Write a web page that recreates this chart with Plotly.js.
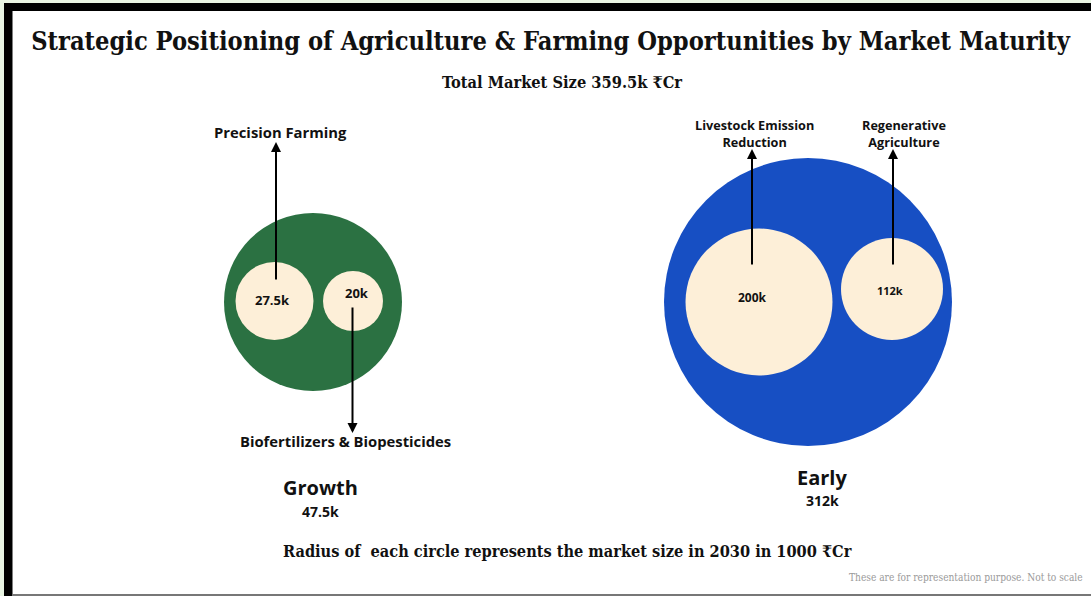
<!DOCTYPE html>
<html>
<head>
<meta charset="utf-8">
<script src="https://cdn.plot.ly/plotly-3.0.1.min.js"></script>
<style>
  html, body { margin: 0; padding: 0; background: #ffffff; }
  #chart { width: 1091px; height: 596px; }
</style>
</head>
<body>
<div id="chart"></div>
<script>
// ---------------- DATA ----------------
const chartTitle = 'Strategic Positioning of Agriculture & Farming Opportunities by Market Maturity';
const totalMarket = 359.5;                 // k ₹Cr
const segments = ['Growth', 'Early'];      // market maturity stage
const segmentSize = [47.5, 312];           // k ₹Cr (2030)
const opportunities = ['Precision Farming', 'Biofertilizers & Biopesticides',
                       'Livestock Emission<br>Reduction', 'Regenerative<br>Agriculture'];
const opportunitySegment = ['Growth', 'Growth', 'Early', 'Early'];
const opportunitySize = [27.5, 20, 200, 112];  // k ₹Cr (2030)
const footNote = 'Radius of  each circle represents the market size in 2030 in 1000 ₹Cr';
const scaleNote = 'These are for representation purpose. Not to scale';

// ---------------- LAYOUT GEOMETRY (pixels on a 1:1 axis, not to scale) ----------------
const W = 1091, H = 596;
const segGeom = [ {cx: 313, cy: 302, r: 89, labelY: 487, valueY: 511, labelX: 320},
                  {cx: 808, cy: 302, r: 144, labelY: 477, valueY: 500, labelX: 822} ];
const oppGeom = [
  {cx: 274.5, cy: 301, r: 39,   vx: 272, vy: 300, vs: 13, tail: [276, 281], tip: [276, 142], lx: 280, ly: 132},
  {cx: 353,   cy: 301, r: 30,   vx: 357, vy: 293, vs: 13, tail: [352.5, 306], tip: [352.5, 433], lx: 345, ly: 441},
  {cx: 759,   cy: 302, r: 73.5, vx: 752, vy: 297, vs: 12, tail: [752, 266], tip: [752, 149], lx: 754, ly: 133},
  {cx: 892,   cy: 289, r: 51,   vx: 890, vy: 290, vs: 11, tail: [893, 266], tip: [893, 149], lx: 904, ly: 133}
];
const segColor = ['#2b7142', '#174fc3'];
const oppColor = '#fdefd8';
const serif = '"DejaVu Serif Condensed", "DejaVu Serif", "Noto Sans", serif';
const sans = '"Open Sans", "Noto Sans", "DejaVu Sans", sans-serif';

// ---------------- TRACES ----------------
const outerTrace = {
  type: 'scatter', mode: 'markers', hoverinfo: 'text',
  x: segments.map((s, i) => segGeom[i].cx),
  y: segments.map((s, i) => segGeom[i].cy),
  text: segments.map((s, i) => s + ': ' + segmentSize[i] + 'k'),
  marker: { size: segGeom.map(g => 2 * g.r), sizemode: 'diameter', color: segColor, opacity: 1, line: {width: 0} },
  showlegend: false
};
const innerTrace = {
  type: 'scatter', mode: 'markers', hoverinfo: 'text',
  x: opportunities.map((o, i) => oppGeom[i].cx),
  y: opportunities.map((o, i) => oppGeom[i].cy),
  text: opportunities.map((o, i) => o.replace('<br>', ' ') + ' (' + opportunitySegment[i] + '): ' + opportunitySize[i] + 'k'),
  marker: { size: oppGeom.map(g => 2 * g.r), sizemode: 'diameter', color: oppColor, opacity: 1, line: {width: 0} },
  showlegend: false
};

// ---------------- ANNOTATIONS ----------------
const ann = [];
ann.push({ x: 562, y: 82, xref: 'x', yref: 'y', showarrow: false,
  text: 'Total Market Size ' + totalMarket + 'k ₹Cr',
  font: { family: serif, size: 16.3, color: '#111', weight: 'bold' } });
ann.push({ x: 567, y: 551, xref: 'x', yref: 'y', showarrow: false, text: footNote,
  font: { family: serif, size: 16.2, color: '#111', weight: 'bold' } });
ann.push({ x: 1085, y: 577, xref: 'x', yref: 'y', xanchor: 'right', showarrow: false, text: scaleNote,
  font: { family: serif, size: 10.1, color: '#9a9a9a' } });

segments.forEach((s, i) => {
  const g = segGeom[i];
  ann.push({ x: g.labelX, y: g.labelY, xref: 'x', yref: 'y', showarrow: false, text: s,
    font: { family: sans, size: 20, color: '#111', weight: 'bold' } });
  ann.push({ x: g.labelX, y: g.valueY, xref: 'x', yref: 'y', showarrow: false, text: segmentSize[i] + 'k',
    font: { family: sans, size: 14, color: '#111', weight: 'bold' } });
});

opportunities.forEach((o, i) => {
  const g = oppGeom[i];
  ann.push({ x: g.vx, y: g.vy, xref: 'x', yref: 'y', showarrow: false, text: opportunitySize[i] + 'k',
    font: { family: sans, size: g.vs, color: '#111', weight: 'bold' } });
  ann.push({ x: g.tip[0], y: g.tip[1], ax: g.tail[0], ay: g.tail[1], xref: 'x', yref: 'y', axref: 'x', ayref: 'y',
    text: '', showarrow: true, arrowhead: 2, arrowsize: 1, arrowwidth: 2, arrowcolor: '#000', standoff: 0, startstandoff: 0 });
  const twoLine = o.indexOf('<br>') >= 0;
  ann.push({ x: g.lx, y: g.ly, xref: 'x', yref: 'y', showarrow: false, text: o,
    font: { family: sans, size: twoLine ? 12.7 : 14.8, color: '#111', weight: 'bold' } });
});

// ---------------- FRAME SHAPES ----------------
const shapes = [
  { type: 'rect', xref: 'x', yref: 'y', x0: 4, x1: W, y0: 3, y1: H, fillcolor: '#ffffff', line: {width: 0}, layer: 'below' },
  { type: 'rect', xref: 'x', yref: 'y', x0: 4, x1: W, y0: 3, y1: 11, fillcolor: '#000000', line: {width: 0}, layer: 'below' },
  { type: 'rect', xref: 'x', yref: 'y', x0: 4, x1: 12.5, y0: 3, y1: H, fillcolor: '#000000', line: {width: 0}, layer: 'below' },
  { type: 'rect', xref: 'x', yref: 'y', x0: 12.5, x1: W, y0: 594, y1: H, fillcolor: '#777777', line: {width: 0}, layer: 'below' }
];

const layout = {
  width: W, height: H,
  margin: { l: 0, r: 0, t: 0, b: 0, pad: 0 },
  paper_bgcolor: '#e9f5e3', plot_bgcolor: 'rgba(0,0,0,0)',
  title: { text: '<b>' + chartTitle + '</b>', x: 550.5 / W, xanchor: 'center', y: 1 - 41 / H, yanchor: 'middle',
    xref: 'paper', yref: 'paper', font: { family: serif, size: 25.2, color: '#111' } },
  xaxis: { range: [0, W], visible: false, fixedrange: true },
  yaxis: { range: [H, 0], visible: false, fixedrange: true },
  shapes: shapes,
  annotations: ann,
  showlegend: false,
  hovermode: 'closest'
};

Plotly.newPlot('chart', [outerTrace, innerTrace], layout, { displayModeBar: false, staticPlot: true });
</script>
</body>
</html>
